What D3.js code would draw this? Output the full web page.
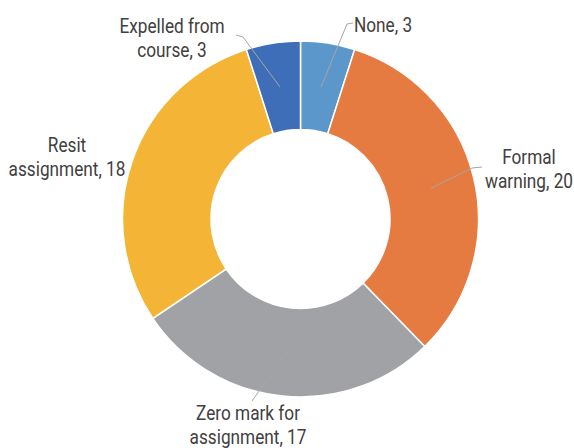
<!DOCTYPE html>
<head>
  <meta charset="utf-8">
  <script src="https://d3js.org/d3.v7.min.js"></script>
  <style>
    body { margin:0; padding:0; background:#fff; }
    text { font-family: Roboto, "Liberation Sans Narrow", sans-serif; font-size:20.5px; font-weight:400; fill:#404040; }
  </style>
</head>

<body>
  <script>
    var width = 574, height = 448;

    // data
    var categories = ["None", "Formal warning", "Zero mark for assignment", "Resit assignment", "Expelled from course"];
    var values = [3, 20, 17, 18, 3];
    var labelLines = [["None, 3"], ["Formal", "warning, 20"], ["Zero mark for", "assignment, 17"], ["Resit", "assignment, 18"], ["Expelled from", "course, 3"]];

    var colors = ["#5B97CB", "#E67B42", "#A1A2A5", "#F4B436", "#3E6EB8"];

    // label placement (text x, first baseline, anchor, leader knee points)
    var labelLayout = [
      {x: 354, y: 32, anchor: "start", leader: [[353, 23], [347, 24]]},
      {x: 529, y: 164, anchor: "middle", leader: [[482, 167], [472, 168]]},
      {x: 248, y: 420, anchor: "middle", leader: [[252, 401]]},
      {x: 67, y: 152, anchor: "middle", leader: null},
      {x: 172, y: 32.5, anchor: "middle", leader: [[236, 35], [243, 37]]}
    ];

    var cx = 300.5, cy = 219, outerR = 178, innerR = 89.5;
    var squeeze = 0.84; // condensed look

    var svg = d3.select("body").append("svg")
      .attr("width", width)
      .attr("height", height);

    var data = categories.map(function(c, i) { return {name: c, value: values[i], i: i}; });

    var pie = d3.pie().sort(null).value(function(d) { return d.value; });
    var arc = d3.arc().innerRadius(innerR).outerRadius(outerR);
    var arcs = pie(data);

    var g = svg.append("g").attr("transform", "translate(" + cx + "," + cy + ")");

    g.selectAll("path.slice")
      .data(arcs)
      .enter().append("path")
      .attr("class", "slice")
      .attr("d", arc)
      .style("fill", function(d) { return colors[d.data.i]; })
      .style("stroke", "#fff")
      .style("stroke-width", 1.5);

    // leader lines, from the label to the slice centroid
    var line = d3.line();
    arcs.forEach(function(d, i) {
      var lay = labelLayout[i];
      if (!lay.leader) return;
      var c = arc.centroid(d);
      var pts = lay.leader.concat([[c[0] + cx, c[1] + cy]]);
      svg.append("path")
        .attr("d", line(pts))
        .style("fill", "none")
        .style("stroke", "#A6A6A6")
        .style("stroke-width", 1);
    });

    // labels
    labelLines.forEach(function(lines, i) {
      var lay = labelLayout[i];
      var t = svg.append("text")
        .attr("transform", "translate(" + lay.x + "," + lay.y + ") scale(" + squeeze + ",1)")
        .attr("text-anchor", lay.anchor);
      lines.forEach(function(s, j) {
        t.append("tspan")
          .attr("x", 0)
          .attr("dy", j == 0 ? 0 : 24.5)
          .text(s);
      });
    });
  </script>
</body>
